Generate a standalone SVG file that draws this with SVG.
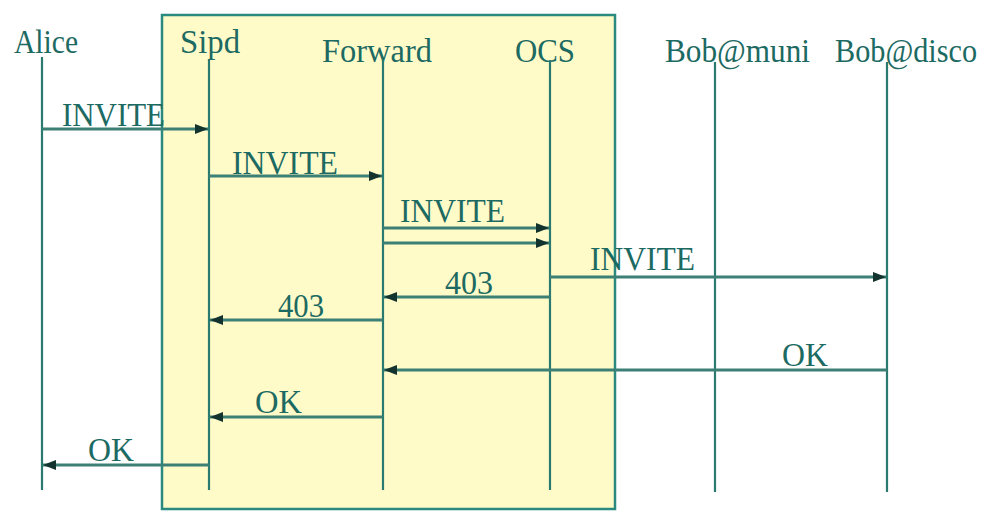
<svg xmlns="http://www.w3.org/2000/svg" width="990" height="512" viewBox="0 0 990 512">
  <style>
    text { font-family: "Liberation Serif", "Times New Roman", serif; font-size: 33px; fill: #1c6a62; }
    .life { stroke: #2a7a70; stroke-width: 2.2; fill: none; }
    .msg { stroke: #3c7f74; stroke-width: 3; fill: none; marker-end: url(#head); }
    .box { fill: #fffbc9; stroke: #2a8a80; stroke-width: 2.5; }
  </style>
  <defs>
    <marker id="head" markerUnits="userSpaceOnUse" markerWidth="14" markerHeight="12" refX="13" refY="6" orient="auto">
      <path d="M0,1 L13,6 L0,11 Z" fill="#12332e"/>
    </marker>
  </defs>

  <rect width="990" height="512" fill="#ffffff"/>

  <!-- server-side box -->
  <rect class="box" x="162" y="15" width="453" height="494"/>

  <!-- participants -->
  <g id="alice">
    <text x="14" y="53" textLength="64" lengthAdjust="spacingAndGlyphs">Alice</text>
    <line class="life" x1="42" y1="57" x2="42" y2="490"/>
  </g>
  <g id="sipd">
    <text x="180" y="53" textLength="60" lengthAdjust="spacingAndGlyphs">Sipd</text>
    <line class="life" x1="209" y1="60" x2="209" y2="490"/>
  </g>
  <g id="forward">
    <text x="322" y="62" textLength="110" lengthAdjust="spacingAndGlyphs">Forward</text>
    <line class="life" x1="383" y1="60" x2="383" y2="490"/>
  </g>
  <g id="ocs">
    <text x="515" y="62" textLength="60" lengthAdjust="spacingAndGlyphs">OCS</text>
    <line class="life" x1="550" y1="60" x2="550" y2="490"/>
  </g>
  <g id="bob-muni">
    <text x="665" y="62" textLength="145" lengthAdjust="spacingAndGlyphs">Bob@muni</text>
    <line class="life" x1="715" y1="62" x2="715" y2="492"/>
  </g>
  <g id="bob-disco">
    <text x="835" y="62" font-size="30" textLength="142" lengthAdjust="spacingAndGlyphs">Bob@disco</text>
    <line class="life" x1="887" y1="62" x2="887" y2="492"/>
  </g>

  <!-- messages -->
  <g id="connectors">
    <line class="msg" x1="42" y1="129" x2="208" y2="129"/>
    <line class="msg" x1="209" y1="176" x2="382" y2="176"/>
    <line class="msg" x1="383" y1="228" x2="549" y2="228"/>
    <line class="msg" x1="383" y1="243" x2="549" y2="243"/>
    <line class="msg" x1="550" y1="277" x2="886" y2="277"/>
    <line class="msg" x1="550" y1="297" x2="384" y2="297"/>
    <line class="msg" x1="383" y1="320" x2="210" y2="320"/>
    <line class="msg" x1="887" y1="370" x2="384" y2="370"/>
    <line class="msg" x1="383" y1="417" x2="210" y2="417"/>
    <line class="msg" x1="209" y1="465" x2="43" y2="465"/>
  </g>

  <!-- message labels -->
  <g id="labels">
    <text x="62" y="126" textLength="103" lengthAdjust="spacingAndGlyphs">INVITE</text>
    <text x="232" y="174" textLength="106" lengthAdjust="spacingAndGlyphs">INVITE</text>
    <text x="400" y="222" textLength="105" lengthAdjust="spacingAndGlyphs">INVITE</text>
    <text x="590" y="270" textLength="105" lengthAdjust="spacingAndGlyphs">INVITE</text>
    <text x="445" y="294" textLength="48" lengthAdjust="spacingAndGlyphs">403</text>
    <text x="278" y="317" textLength="46" lengthAdjust="spacingAndGlyphs">403</text>
    <text x="782" y="366" textLength="46" lengthAdjust="spacingAndGlyphs">OK</text>
    <text x="255" y="413" textLength="47" lengthAdjust="spacingAndGlyphs">OK</text>
    <text x="88" y="461" textLength="46" lengthAdjust="spacingAndGlyphs">OK</text>
  </g>
</svg>
